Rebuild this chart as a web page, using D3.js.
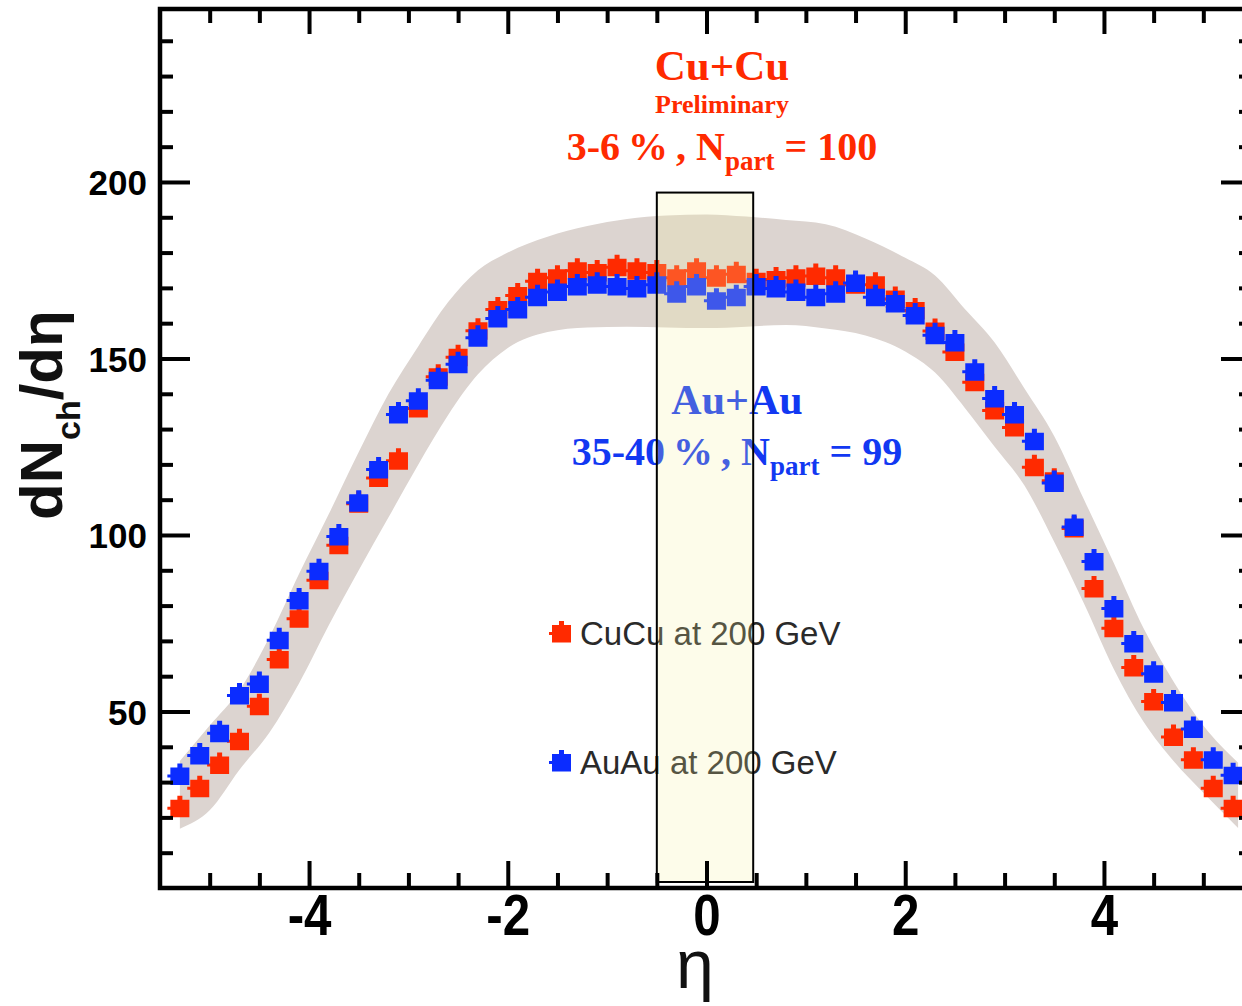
<!DOCTYPE html>
<html><head><meta charset="utf-8">
<script src="https://cdn.jsdelivr.net/npm/d3@7"></script>
<style>body{margin:0;background:#fff}svg{display:block}</style>
</head><body>
<svg id="chart" width="1242" height="1006"></svg>
<script>
// ---- data ----
const etaValues = [-5.3,-5.1,-4.9,-4.7,-4.5,-4.3,-4.1,-3.9,-3.7,-3.5,-3.3,-3.1,-2.9,-2.7,-2.5,-2.3,-2.1,-1.9,-1.7,-1.5,-1.3,-1.1,-0.9,-0.7,-0.5,-0.3,-0.1,
  0.1,0.3,0.5,0.7,0.9,1.1,1.3,1.5,1.7,1.9,2.1,2.3,2.5,2.7,2.9,3.1,3.3,3.5,3.7,3.9,4.1,4.3,4.5,4.7,4.9,5.1,5.3];
const cuCuValues = [22.7,28.4,35.0,41.7,51.6,64.9,76.4,87.3,97.2,109.0,116.3,121.2,136.0,145,150.5,158,164,168,172,173,175,174.5,176,175,174.5,173,175,
  173,174,172,172.5,173,173.5,173,171,171,167,163.7,157.9,152,143.4,135.4,130.6,119.3,115.5,102,85,73.7,62.6,53,42.9,36.5,28.4,22.7];
const auAuValues = [31.9,37.7,44.0,54.7,57.9,70.3,81.6,89.9,99.7,109.3,118.7,134.3,138.2,144,148.5,156,161.5,164,167.5,169,170.5,171,170.5,170,171,168.5,170.5,
  166.5,167.5,170.5,170,169,167.5,168.5,171.5,167.5,165.7,162.3,156.7,154.7,146.4,138.8,134.3,126.7,114.9,102.4,92.6,79.3,69.4,60.8,52.7,45.2,36.5,32.1];
const bandEta  = [-5.3,-5.0,-4.7,-4.4,-4.1,-3.8,-3.5,-3.2,-2.9,-2.6,-2.3,-2.0,-1.6,-1.2,-0.8,-0.4,0,0.4,0.8,1.2,1.6,2.0,2.3,2.6,2.9,3.2,3.5,3.8,4.1,4.4,4.7,5.0,5.35];
const bandLow  = [16.8,22,33.5,44,58,74.5,90,105,120,134,145.5,153,157.5,158.8,159,158.8,158.6,159,159.5,158.5,156.5,152,146,136,125,114,98,80.5,62,47,36,27,17];
const bandHigh = [36,46,56,71,89,106,123.5,140,153.5,166,175,180,184.5,187.5,189.5,190.5,190.8,190.2,189.2,188,184,178.5,173.5,164,154.5,141.5,128,110,92,73.5,58.5,46,35.5];
const seriesNames = ["CuCu at 200 GeV", "AuAu at 200 GeV"];
const windowEta = [-0.5, 0.47];
const windowY = [1.7, 197];
const xMajorTicks = [-4,-2,0,2,4];
const xMinorTicks = [-5,-4.5,-3.5,-3,-2.5,-1.5,-1,-0.5,0.5,1,1.5,2.5,3,3.5,4.5,5];
const yMajorTicks = [50,100,150,200];
const yMinorTicks = [10,20,30,40,60,70,80,90,110,120,130,140,160,170,180,190,210,220,230,240];

// ---- layout ----
const svg = d3.select("#chart");
const x = d3.scaleLinear().domain([-5.5, 5.5]).range([160, 1253]);
const y = d3.scaleLinear().domain([0, 249]).range([888, 9]);
const RED = "#ff2a00", BLUE = "#0b2cff", TXTBLUE = "#1238f2";
const sansBold = "'Liberation Sans', Arial, Helvetica, sans-serif";
const serif = "'Liberation Serif', 'Times New Roman', serif";

// band
const band = bandEta.map((e, i) => ({eta: e, lo: bandLow[i], hi: bandHigh[i]}));
svg.append("path").datum(band)
  .attr("d", d3.area().x(d => x(d.eta)).y0(d => y(d.lo)).y1(d => y(d.hi)).curve(d3.curveMonotoneX))
  .attr("fill", "#dcd4d0");

// marker shape
const markerD = "M-9.5,-8H-2.5V-12H2.5V-8H9.5V9.5H-9.5V2H-12.5V-1H-9.5Z";
function drawSeries(vals, color) {
  svg.append("g").selectAll("path").data(etaValues.map((e, i) => ({eta: e, v: vals[i]})))
    .join("path")
    .attr("d", markerD)
    .attr("transform", d => `translate(${x(d.eta)},${y(d.v)})`)
    .attr("fill", color);
}
drawSeries(cuCuValues, RED);
drawSeries(auAuValues, BLUE);

// annotations
function label(cx, by, parts, color) {
  const t = svg.append("text").attr("x", cx).attr("y", by).attr("text-anchor", "middle")
    .attr("font-family", serif).attr("font-weight", "bold").attr("fill", color);
  parts.forEach(p => {
    const ts = t.append("tspan").text(p.t).attr("font-size", p.s);
    if (p.dy) ts.attr("dy", p.dy);
  });
}
label(722, 80, [{t: "Cu+Cu", s: 43}], RED);
label(722, 113, [{t: "Preliminary", s: 26}], RED);
label(722, 160, [{t: "3-6\u2009%\u2009, N", s: 40}, {t: "part", s: 27, dy: 10}, {t: " = 100", s: 40, dy: -10}], RED);
label(737, 414, [{t: "Au+Au", s: 42}], TXTBLUE);
label(737, 465, [{t: "35-40\u2009%\u2009, N", s: 40}, {t: "part", s: 27, dy: 10}, {t: " = 99", s: 40, dy: -10}], TXTBLUE);

// legend
const legend = svg.append("g");
[[RED, 633], [BLUE, 762]].forEach((c, i) => {
  legend.append("path").attr("d", markerD).attr("transform", `translate(561.5,${c[1]})`).attr("fill", c[0]);
  legend.append("text").attr("x", 580).attr("y", c[1] + 12).text(seriesNames[i])
    .attr("font-family", sansBold).attr("font-size", 33).attr("fill", "#2a2a2a");
});

// highlighted window
svg.append("rect")
  .attr("x", x(windowEta[0])).attr("y", y(windowY[1]))
  .attr("width", x(windowEta[1]) - x(windowEta[0])).attr("height", y(windowY[0]) - y(windowY[1]))
  .attr("fill", "#f5f0a0").attr("fill-opacity", 0.22)
  .attr("stroke", "#000").attr("stroke-width", 2);

// axes
function styleAxis(g) {
  g.select(".domain").remove();
  g.selectAll(".tick line").attr("stroke", "#000").attr("stroke-width", 4);
}
const bottomY = y(0), topY = y(249), leftX = x(-5.5), rightX = x(5.5);
svg.append("g").attr("transform", `translate(0,${bottomY})`)
  .call(d3.axisBottom(x).tickValues(xMinorTicks).tickSize(-15).tickFormat("")).call(styleAxis);
const xb = svg.append("g").attr("transform", `translate(0,${bottomY})`)
  .call(d3.axisBottom(x).tickValues(xMajorTicks).tickSize(-27).tickFormat(d => String(d))).call(styleAxis);
xb.selectAll("text").attr("y", 47).attr("dy", 0).attr("font-family", sansBold).attr("font-weight", "bold")
  .attr("font-size", 58).attr("fill", "#000").attr("transform", "scale(0.85,1)");

svg.append("g").attr("transform", `translate(0,${topY})`)
  .call(d3.axisTop(x).tickValues(xMinorTicks).tickSize(-14).tickFormat("")).call(styleAxis);
svg.append("g").attr("transform", `translate(0,${topY})`)
  .call(d3.axisTop(x).tickValues(xMajorTicks).tickSize(-25).tickFormat("")).call(styleAxis);

svg.append("g").attr("transform", `translate(${leftX},0)`)
  .call(d3.axisLeft(y).tickValues(yMinorTicks).tickSize(-13).tickFormat("")).call(styleAxis);
const yl = svg.append("g").attr("transform", `translate(${leftX},0)`)
  .call(d3.axisLeft(y).tickValues(yMajorTicks).tickSize(-30).tickPadding(13)).call(styleAxis);
yl.selectAll("text").attr("dy", "0.37em").attr("font-family", sansBold).attr("font-weight", "bold")
  .attr("font-size", 35).attr("fill", "#000");

svg.append("g").attr("transform", `translate(${rightX},0)`)
  .call(d3.axisRight(y).tickValues(yMinorTicks).tickSize(-14).tickFormat("")).call(styleAxis);
svg.append("g").attr("transform", `translate(${rightX},0)`)
  .call(d3.axisRight(y).tickValues(yMajorTicks).tickSize(-32).tickFormat("")).call(styleAxis);

// frame
svg.append("rect").attr("x", leftX).attr("y", topY).attr("width", rightX - leftX).attr("height", bottomY - topY)
  .attr("fill", "none").attr("stroke", "#000").attr("stroke-width", 4.5);

// axis titles
svg.append("text").attr("x", 695).attr("y", 988).attr("text-anchor", "middle")
  .attr("font-family", sansBold).attr("font-size", 68).attr("fill", "#111").text("η");
const yt = svg.append("text").attr("transform", "translate(62,520) rotate(-90)")
  .attr("font-family", sansBold).attr("font-weight", "bold").attr("font-size", 60).attr("fill", "#111");
yt.append("tspan").text("dN");
yt.append("tspan").text("ch").attr("font-size", 34).attr("dy", 18);
yt.append("tspan").text("/dη").attr("dy", -18);
</script>
</body></html>
